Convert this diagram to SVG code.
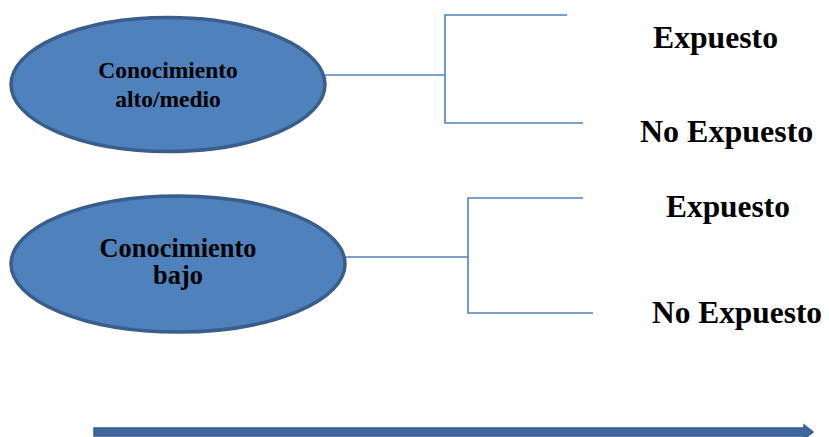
<svg xmlns="http://www.w3.org/2000/svg" width="829" height="437" viewBox="0 0 829 437">
<style>
.node{fill:#4F81BD;stroke:#3A5E8C;stroke-width:3.5}
text{font-family:'Liberation Serif',serif;font-weight:700;fill:#000}
.lbl{text-anchor:middle}
.con{fill:none;stroke:#4F81BD;stroke-width:1.6}
</style>
<rect width="829" height="437" fill="#fff"/>
<g id="connectors">
<polyline class="con" points="325,75 445,75"/>
<polyline class="con" points="567,15 445,15 445,123 583,123"/>
<polyline class="con" points="345,257 468,257"/>
<polyline class="con" points="583,198 468,198 468,313 593,313"/>
</g>
<g id="node-alto">
<ellipse class="node" cx="168" cy="84.5" rx="157" ry="67"/>
<text class="lbl" x="168" y="78" font-size="23.5">Conocimiento</text>
<text class="lbl" x="168" y="107" font-size="23.5">alto/medio</text>
</g>
<g id="node-bajo">
<ellipse class="node" cx="178" cy="264" rx="167" ry="68"/>
<text class="lbl" x="178" y="257" font-size="26.4">Conocimiento</text>
<text class="lbl" x="178" y="284" font-size="26.4">bajo</text>
</g>
<g id="out-expuesto-1">
<text x="653" y="48" font-size="31.7">Expuesto</text>
</g>
<g id="out-noexpuesto-1">
<text x="640" y="142" font-size="32">No Expuesto</text>
</g>
<g id="out-expuesto-2">
<text x="666" y="217" font-size="31.4">Expuesto</text>
</g>
<g id="out-noexpuesto-2">
<text x="652" y="323" font-size="31.4">No Expuesto</text>
</g>
<g id="timeline">
<path d="M94,428 L804,428 L804,425 L813,432 L804,439 L804,436 L94,436 Z" fill="#3F67A0" stroke="#385D8A" stroke-width="1.5"/>
</g>
</svg>
